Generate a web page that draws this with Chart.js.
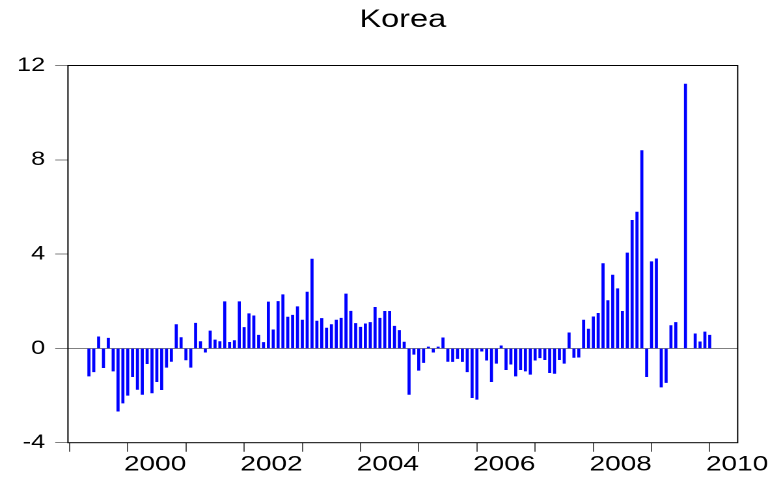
<!DOCTYPE html>
<html>
<head>
<meta charset="utf-8">
<title>Korea</title>
<script src="https://cdn.jsdelivr.net/npm/chart.js@4.4.0/dist/chart.umd.min.js"></script>
<style>
  html, body { margin: 0; padding: 0; background: #fff; overflow: hidden; }
  /* the source graph is stretched sideways, so draw it narrower and stretch it */
  #wrap { width: 600px; height: 481px; transform: scaleX(1.30167); transform-origin: 0 0; }
</style>
</head>
<body>
<div id="wrap"><canvas id="chart"></canvas></div>
<script>
// ------------------------- Data -------------------------
const firstYear = 1999;
const firstMonth = 5; // May 1999

// monthly values, May 1999 .. Jan 2010 (null = no bar)
const values = [
  -1.17, -0.99, 0.49, -0.82, 0.43, -0.96, -2.66, -2.32,                     // 1999
  -1.99, -1.20, -1.74, -1.95, -0.65, -1.89, -1.41, -1.75, -0.80, -0.55, 1.01, 0.46, // 2000
  -0.49, -0.80, 1.07, 0.29, -0.16, 0.74, 0.36, 0.29, 1.98, 0.26, 0.33, 1.98,  // 2001
  0.89, 1.47, 1.38, 0.56, 0.25, 1.97, 0.79, 1.99, 2.28, 1.33, 1.41, 1.77,     // 2002
  1.20, 2.39, 3.79, 1.16, 1.27, 0.86, 1.01, 1.20, 1.28, 2.31, 1.58, 1.06,     // 2003
  0.90, 1.04, 1.10, 1.74, 1.28, 1.57, 1.57, 0.94, 0.76, 0.27, -1.95, -0.25,   // 2004
  -0.93, -0.60, 0.06, -0.16, 0.06, 0.45, -0.55, -0.56, -0.43, -0.56, -0.99, -2.09, // 2005
  -2.16, -0.12, -0.50, -1.41, -0.63, 0.11, -0.90, -0.67, -1.17, -0.90, -0.96, -1.10, // 2006
  -0.50, -0.40, -0.48, -1.03, -1.06, -0.48, -0.63, 0.66, -0.38, -0.37, 1.20, 0.82, // 2007
  1.34, 1.49, 3.60, 2.03, 3.11, 2.53, 1.57, 4.05, 5.43, 5.78, 8.39, -1.20,    // 2008
  3.68, 3.80, -1.64, -1.45, 0.97, 1.10, null, 11.21, null, 0.62, 0.28, 0.70,  // 2009
  0.56                                                                        // 2010
];

const tickYears = [1999, 2000, 2001, 2002, 2003, 2004, 2005, 2006, 2007, 2008, 2009, 2010];
const labelYears = [2000, 2002, 2004, 2006, 2008, 2010];
const yTicks = [-4, 0, 4, 8, 12];

// ------------------------- Build points -------------------------
const points = [];
values.forEach((v, i) => {
  if (v === null) return;
  const m = firstMonth - 1 + i;
  points.push({ x: firstYear + m / 12, y: v });
});

// ------------------------- Plot frame -------------------------
const framePlugin = {
  id: 'frame',
  afterDraw(chart) {
    const { ctx, chartArea: a } = chart;
    ctx.save();
    ctx.strokeStyle = '#000';
    ctx.lineWidth = 1;
    ctx.strokeRect(a.left, a.top, a.right - a.left, a.bottom - a.top);
    ctx.restore();
  }
};

// ------------------------- Chart -------------------------
const ctx = document.getElementById('chart').getContext('2d');
new Chart(ctx, {
  type: 'bar',
  data: {
    datasets: [{
      data: points,
      backgroundColor: '#0000ff',
      borderWidth: 0,
      barThickness: 1.7
    }]
  },
  plugins: [framePlugin],
  options: {
    responsive: true,
    maintainAspectRatio: false,
    animation: false,
    devicePixelRatio: 2,
    layout: { padding: { left: 13.6, right: 33.3, top: 0, bottom: 3.5 } },
    plugins: {
      legend: { display: false },
      tooltip: { enabled: false },
      title: {
        display: true,
        text: 'Korea',
        fullSize: false,
        color: '#000',
        font: { family: 'Liberation Sans', size: 25, weight: 'normal' },
        padding: { top: 5, bottom: 30.5 }
      }
    },
    scales: {
      x: {
        type: 'linear',
        min: 1998.973,
        max: 2010.48,
        offset: false,
        border: { display: false },
        grid: {
          offset: false,
          drawOnChartArea: false,
          drawTicks: true,
          tickLength: 9,
          tickWidth: 1,
          tickColor: '#555'
        },
        ticks: {
          autoSkip: false,
          maxRotation: 0,
          padding: 0,
          labelOffset: 21,
          color: '#000',
          font: { family: 'Liberation Sans', size: 21.5 },
          callback: v => labelYears.includes(v) ? String(v) : ''
        },
        afterBuildTicks: scale => { scale.ticks = tickYears.map(v => ({ value: v })); },
        afterFit: scale => { scale.height = 34.8; }
      },
      y: {
        min: -4,
        max: 12,
        border: { display: false },
        grid: {
          drawOnChartArea: true,
          drawTicks: true,
          tickLength: 9.8,
          tickColor: '#808080',
          color: c => (c.tick && c.tick.value === 0) ? '#808080' : 'rgba(0,0,0,0)'
        },
        ticks: {
          padding: 7.7,
          color: '#000',
          font: { family: 'Liberation Sans', size: 19.5 }
        },
        afterBuildTicks: scale => { scale.ticks = yTicks.map(v => ({ value: v })); },
        afterFit: scale => { scale.width = 38.6; }
      }
    }
  }
});
</script>
</body>
</html>
